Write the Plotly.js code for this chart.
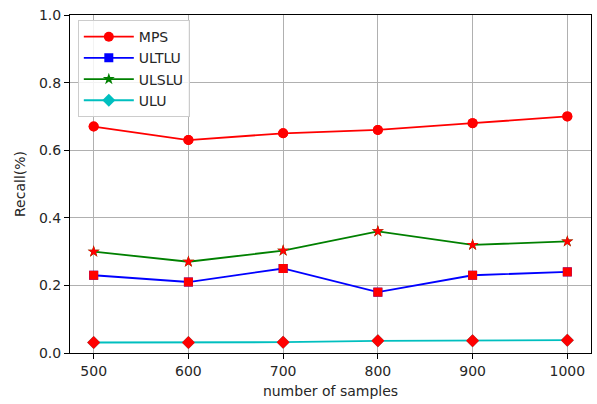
<!DOCTYPE html>
<html><head><meta charset="utf-8">
<script src="https://cdn.plot.ly/plotly-3.0.1.min.js"></script>
<style>body{margin:0;background:#fff}#c{width:597px;height:404px}</style>
</head><body><div id="c"></div>
<script>
const samples = [500, 600, 700, 800, 900, 1000];
const mps   = [0.67, 0.63, 0.65, 0.66, 0.68, 0.70];
const ultlu = [0.23, 0.21, 0.25, 0.18, 0.23, 0.24];
const ulslu = [0.30, 0.27, 0.303, 0.36, 0.32, 0.33];
const ulu   = [0.031, 0.031, 0.032, 0.036, 0.036, 0.038];
const names = ['MPS', 'ULTLU', 'ULSLU', 'ULU'];
const colors = ['#ff0000', '#0000ff', '#008000', '#00bfbf'];
const symbols = ['circle', 'square', 'star', 'diamond'];
const sizes = [10, 9, 9, 10];
const series = [mps, ultlu, ulslu, ulu];
const traces = [];
series.forEach((ys, i) => {
  traces.push({x: samples, y: ys, name: names[i], type: 'scatter', mode: 'lines+markers',
    line: {color: colors[i], width: 1.8},
    marker: {symbol: symbols[i], size: sizes[i], color: colors[i]}});
});
series.forEach((ys, i) => {
  traces.push({x: samples, y: ys, showlegend: false, type: 'scatter', mode: 'markers', hoverinfo: 'skip',
    marker: {symbol: symbols[i], size: sizes[i], color: '#ff0000'}});
});
const axisFont = {family: 'DejaVu Sans', size: 14, color: '#262626'};
const layout = {
  width: 597, height: 404,
  margin: {l: 70, r: 6, t: 15, b: 51},
  paper_bgcolor: '#fff', plot_bgcolor: '#fff',
  font: axisFont,
  xaxis: {range: [475, 1025], tickvals: samples, ticktext: samples.map(String),
    showgrid: true, gridcolor: '#b0b0b0', gridwidth: 1, zeroline: false,
    showline: true, linecolor: '#000', linewidth: 1, mirror: true,
    ticks: 'outside', ticklen: 5, tickcolor: '#000', tickfont: axisFont,
    title: {text: 'number of samples', font: axisFont, standoff: 8}},
  yaxis: {range: [0, 1], tickvals: [0, 0.2, 0.4, 0.6, 0.8, 1.0], ticktext: ['0.0','0.2','0.4','0.6','0.8','1.0'],
    showgrid: true, gridcolor: '#b0b0b0', gridwidth: 1, zeroline: false,
    showline: true, linecolor: '#000', linewidth: 1, mirror: true,
    ticks: 'outside', ticklen: 5, tickcolor: '#000', tickfont: axisFont,
    title: {text: 'Recall(%)', font: axisFont, standoff: 10}},
  legend: {x: 0.015, y: 0.985, xanchor: 'left', yanchor: 'top',
    bgcolor: 'rgba(255,255,255,0.85)', bordercolor: '#cccccc', borderwidth: 1,
    font: axisFont, tracegroupgap: 0, itemwidth: 50},
  showlegend: true
};
Plotly.newPlot('c', traces, layout, {displayModeBar: false, staticPlot: true});
</script></body></html>
